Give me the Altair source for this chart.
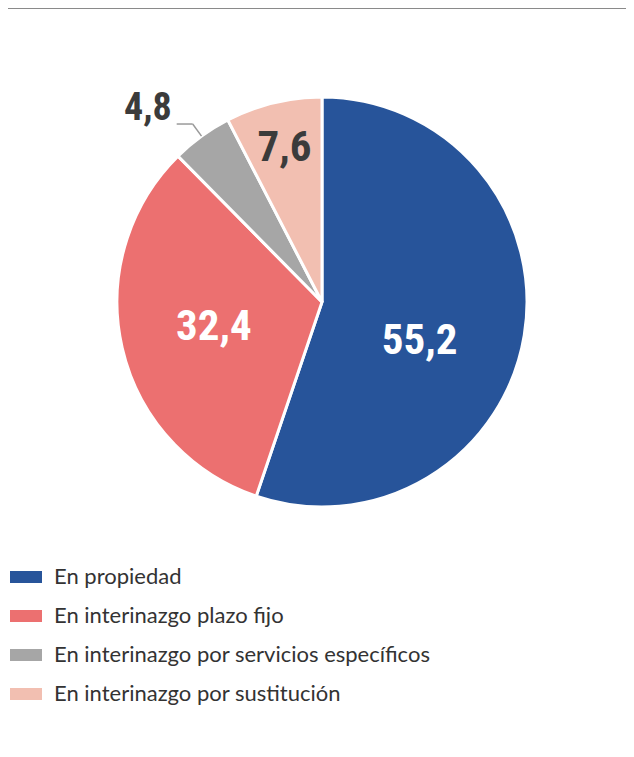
import math
import altair as alt
import pandas as pd

categories = [
    "En propiedad",
    "En interinazgo plazo fijo",
    "En interinazgo por servicios específicos",
    "En interinazgo por sustitución",
]
values = [55.2, 32.4, 4.8, 7.6]
labels = ["55,2", "32,4", "4,8", "7,6"]
colors = ["#27549A", "#EC7070", "#A6A6A6", "#F2BFB1"]

df = pd.DataFrame({
    "category": categories,
    "value": values,
    "label": labels,
    "order": list(range(len(categories))),
})

W, H = 618, 700
xscale = alt.Scale(domain=[-314, 304], nice=False, zero=False)
yscale = alt.Scale(domain=[-406, 294], nice=False, zero=False)
tscale = alt.Scale(domain=[0, 100], range=[0, 2 * math.pi])

LABEL_FONT = "Roboto Condensed, sans-serif"

base = alt.Chart(df).transform_window(
    cum="sum(value)", sort=[alt.SortField("order")]
).transform_calculate(
    mid="datum.cum - datum.value / 2",
    ang="(datum.cum - datum.value / 2) / 100 * 2 * PI",
).transform_calculate(
    ex="205 * sin(datum.ang)", ey="205 * cos(datum.ang)",
    bx="220 * sin(datum.ang)", by="220 * cos(datum.ang)",
).transform_calculate(
    cx="datum.bx - 16", tx="datum.bx - 21", ty="datum.by + 15.5",
)

cx0 = alt.XDatum(0, scale=xscale, axis=None)
cy0 = alt.YDatum(0, scale=yscale, axis=None)

pie = alt.Chart(df).mark_arc(outerRadius=205, stroke="white", strokeWidth=3).encode(
    x=cx0, y=cy0,
    theta=alt.Theta("value:Q", stack=True, scale=tscale),
    order=alt.Order("order:Q"),
    color=alt.Color(
        "category:N",
        sort=categories,
        scale=alt.Scale(domain=categories, range=colors),
        legend=alt.Legend(
            orient="none", legendX=2, legendY=553, title=None,
            symbolType="M-1,-0.375H1V0.375H-1Z", symbolSize=1024,
            symbolStrokeWidth=0, symbolOpacity=1,
            labelFont="Lato", labelFontSize=22, labelColor="#333333",
            labelOffset=12, rowPadding=12, labelLimit=600,
        ),
    ),
)

def polar_label(cat, radius, color, dx=0, dy=0, size=42):
    return base.transform_filter(alt.datum.category == cat).mark_text(
        radius=radius, font=LABEL_FONT, fontWeight="bold", fontSize=size,
        color=color, align="center", baseline="middle", dx=dx, dy=dy,
    ).encode(
        x=cx0, y=cy0,
        theta=alt.Theta("mid:Q", scale=tscale),
        text="label:N",
    )

lab1 = polar_label(categories[0], 106, "white", dx=-7, dy=22, size=43)
lab2 = polar_label(categories[1], 111, "white", size=43)
lab4 = polar_label(categories[3], 159, "#3b3b3b", size=43)

small = base.transform_filter(alt.datum.category == categories[2])
lead1 = small.mark_rule(color="#9a9a9a", strokeWidth=1.5).encode(
    x=alt.X("ex:Q", scale=xscale, axis=None), y=alt.Y("ey:Q", scale=yscale, axis=None),
    x2="bx:Q", y2="by:Q",
)
lead2 = small.mark_rule(color="#9a9a9a", strokeWidth=1.5).encode(
    x=alt.X("bx:Q", scale=xscale, axis=None), y=alt.Y("by:Q", scale=yscale, axis=None),
    x2="cx:Q", y2="by:Q",
)
lab3 = small.mark_text(
    font=LABEL_FONT, fontWeight="bold", fontSize=38, color="#3b3b3b",
    align="right", baseline="middle",
).encode(
    x=alt.X("tx:Q", scale=xscale, axis=None), y=alt.Y("ty:Q", scale=yscale, axis=None),
    text="label:N",
)

topline = alt.Chart(df).mark_rule(color="#8a8a8a", strokeWidth=2).encode(
    x=alt.value(0), x2=alt.value(W), y=alt.value(0)
)

chart = alt.layer(pie, lead1, lead2, lab1, lab2, lab3, lab4, topline).properties(
    width=W, height=H, autosize=alt.AutoSizeParams(type="none"), padding=0,
).configure_view(stroke=None)

chart.save("out.html", embed_options={"renderer": "svg", "actions": False})
